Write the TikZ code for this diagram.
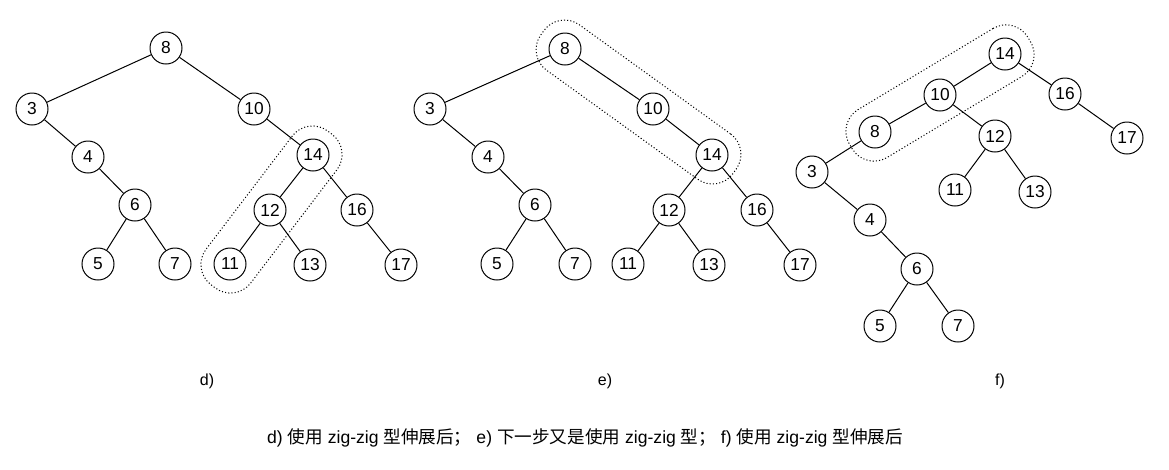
\documentclass[tikz,border=0pt]{standalone}
\usepackage{fontspec}
\setmainfont{Liberation Sans}
\newfontfamily\cjk{Noto Sans CJK SC}
\begin{document}
\begin{tikzpicture}[x=0.75pt,y=-0.75pt,
  nd/.style={draw,circle,line width=0.75pt,minimum size=24pt,inner sep=0pt,font=\fontsize{13}{15}\selectfont},
  ed/.style={line width=0.75pt},
  grp/.style={draw,dash pattern=on 0.8pt off 1.6pt,line width=0.75pt,rounded corners=19pt,minimum height=42pt,inner sep=0pt},
  lbl/.style={font=\fontsize{12}{14}\selectfont},
  cpt/.style={font=\fontsize{13.2}{15}\selectfont}]
\useasboundingbox (0,0) rectangle (1169,469);
% tree d
\node[nd] (d8) at (166,48) {8};
\node[nd] (d3) at (32,109) {3};
\node[nd] (d10) at (254,109) {10};
\node[nd] (d4) at (88,157) {4};
\node[nd] (d6) at (135,205) {6};
\node[nd] (d5) at (98,264) {5};
\node[nd] (d7) at (175,264) {7};
\node[nd] (d14) at (313,155) {14};
\node[nd] (d12) at (270,210) {12};
\node[nd] (d16) at (357,210) {16};
\node[nd] (d11) at (230,264) {11};
\node[nd] (d13) at (310,265) {13};
\node[nd] (d17) at (401,265) {17};
\foreach \a/\b in {8/3,8/10,3/4,4/6,6/5,6/7,10/14,14/12,14/16,12/11,12/13,16/17}
  \draw[ed] (d\a) -- (d\b);
\node[grp,minimum width=144.75pt,rotate=52.7] (dg) at (271.5,209.5) {};
% tree e
\node[nd] (e8) at (565,49) {8};
\node[nd] (e3) at (430,109) {3};
\node[nd] (e10) at (653,109) {10};
\node[nd] (e4) at (488,157) {4};
\node[nd] (e6) at (535,205) {6};
\node[nd] (e5) at (497,264) {5};
\node[nd] (e7) at (575,264) {7};
\node[nd] (e14) at (712,155) {14};
\node[nd] (e12) at (669,210) {12};
\node[nd] (e16) at (757,210) {16};
\node[nd] (e11) at (628,264) {11};
\node[nd] (e13) at (709,265) {13};
\node[nd] (e17) at (800,265) {17};
\foreach \a/\b in {8/3,8/10,3/4,4/6,6/5,6/7,10/14,14/12,14/16,12/11,12/13,16/17}
  \draw[ed] (e\a) -- (e\b);
\node[grp,minimum width=177.75pt,rotate=-35.8] (eg) at (638.5,102) {};
% tree f
\node[nd] (f14) at (1005,54) {14};
\node[nd] (f10) at (940,95) {10};
\node[nd] (f16) at (1065,94) {16};
\node[nd] (f8) at (875,132) {8};
\node[nd] (f12) at (995,136) {12};
\node[nd] (f17) at (1127,138) {17};
\node[nd] (f3) at (812,172) {3};
\node[nd] (f11) at (955,190) {11};
\node[nd] (f13) at (1035,192) {13};
\node[nd] (f4) at (870,220) {4};
\node[nd] (f6) at (917,269) {6};
\node[nd] (f5) at (880,326) {5};
\node[nd] (f7) at (958,326) {7};
\foreach \a/\b in {14/10,14/16,16/17,10/8,10/12,12/11,12/13,8/3,3/4,4/6,6/5,6/7}
  \draw[ed] (f\a) -- (f\b);
\node[grp,minimum width=156pt,rotate=31] (fg) at (940,93) {};
% labels
\node[lbl] (ld) at (207,381) {d)};
\node[lbl] (le) at (605,381) {e)};
\node[lbl] (lf) at (1000,381) {f)};
\node[cpt] (cap) at (585,438) {d) {\cjk 使用} zig-zig {\cjk 型伸展后；} e) {\cjk 下一步又是使用} zig-zig {\cjk 型；} f) {\cjk 使用} zig-zig {\cjk 型伸展后}};
\end{tikzpicture}
\end{document}
